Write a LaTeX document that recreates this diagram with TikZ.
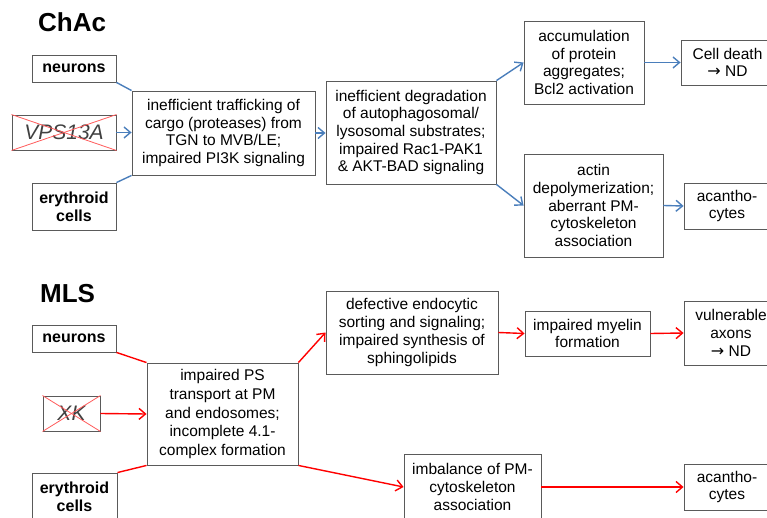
\documentclass[tikz,border=0pt]{standalone}
\usepackage{fontspec}
\setmainfont{Liberation Sans}
\newfontfamily\arrfont{DejaVu Sans}
\usetikzlibrary{arrows.meta}
\definecolor{boxgray}{RGB}{90,90,90}
\definecolor{cblue}{RGB}{74,126,187}
\definecolor{cred}{RGB}{255,0,0}
\definecolor{xred}{RGB}{255,90,90}
\definecolor{genegray}{RGB}{64,64,64}
\newcommand{\toarr}{{\arrfont\fontsize{16}{16}\selectfont →}}
\begin{document}
\begin{tikzpicture}[x=1pt,y=-1pt,
  box/.style={draw=boxgray, line width=0.9pt, inner sep=0pt, align=center,
    font=\fontsize{15.5}{17.7}\selectfont},
  lbl/.style={box, font=\bfseries\fontsize{16}{18}\selectfont},
  gene/.style={box, text=genegray, font=\itshape\fontsize{21}{24}\selectfont},
  sz/.style 2 args={minimum width=#1pt, minimum height=#2pt},
  title/.style={anchor=base west, inner sep=0pt, font=\bfseries\fontsize{26}{30}\selectfont},
  bl/.style={draw=cblue, color=cblue, line width=1.4pt},
  bla/.style={bl, -{Straight Barb[length=6.5pt,width=11pt]}},
  rd/.style={draw=cred, color=cred, line width=1.4pt},
  rda/.style={rd, -{Straight Barb[length=6.5pt,width=11pt]}},
  cross/.style={draw=xred, line width=0.8pt}
]
\useasboundingbox (0,0) rectangle (767,518);
\clip (0,0) rectangle (767,518);

% ---------------- ChAc ----------------
\node[title] (t1) at (38,32) {ChAc};
\node[lbl, sz={84}{27}] (n1) at (74,68.5) {neurons};
\node[gene, sz={104}{35}] (v1) at (64,132.5) {VPS13A};
\draw[cross] (v1.north west) -- (v1.south east);
\draw[cross] (v1.south west) -- (v1.north east);
\node[lbl, sz={84}{47}] (e1) at (74,206.5) {erythroid\\cells};
\node[box, sz={183}{84}] (b1) at (223.5,133)
  {inefficient trafficking of\\cargo (proteases) from\\TGN to MVB/LE;\\impaired PI3K signaling};
\node[box, sz={170}{103}] (b2) at (411,132.5)
  {inefficient degradation\\of autophagosomal/\\lysosomal substrates;\\impaired Rac1-PAK1\\\& AKT-BAD signaling};
\node[box, sz={120}{83}] (b3) at (584,62.5)
  {accumulation\\of protein\\aggregates;\\Bcl2 activation};
\node[box, sz={93}{45}] (b4) at (727.5,62.5) {Cell death\\\toarr\ ND};
\node[box, sz={139}{103}] (b5) at (593.5,205.5)
  {actin\\depolymerization;\\aberrant PM-\\cytoskeleton\\association};
\node[box, sz={86}{46}] (b6) at (727,206) {acantho-\\cytes};

\draw[bl] (n1.south east) -- (b1.north west);
\draw[bla] (v1.east) -- (b1.west |- v1.east);
\draw[bl] (e1.north east) -- (b1.south west);
\draw[bla] (b1.east) -- (b2.west |- b1.east);
\draw[bla] (b2.north east) -- (b3.west);
\draw[bla] (b2.south east) -- (b5.west);
\draw[bla] (b3.east) -- (b4.west);
\draw[bla] (b5.east) -- (b6.west);

% ---------------- MLS ----------------
\node[title] (t2) at (40,302) {MLS};
\node[lbl, sz={84}{27}] (n2) at (74,338.5) {neurons};
\node[gene, sz={57}{35}] (x2) at (71.5,413.5) {XK};
\draw[cross] (x2.north west) -- (x2.south east);
\draw[cross] (x2.south west) -- (x2.north east);
\node[lbl, sz={85}{47}] (e2) at (74.5,496.5) {erythroid\\cells};
\node[box, sz={151}{102}, font=\fontsize{15.5}{18.6}\selectfont] (m1) at (222.5,414)
  {impaired PS\\transport at PM\\and endosomes;\\incomplete 4.1-\\complex formation};
\node[box, sz={172}{83}] (m2) at (412,332.5)
  {defective endocytic\\sorting and signaling;\\impaired synthesis of\\sphingolipids};
\node[box, sz={125}{45}] (m3) at (587.5,333.5) {impaired myelin\\formation};
\node[box, sz={94}{64}] (m4) at (731,333) {vulnerable\\axons\\\toarr\ ND};
\node[box, sz={137}{66}] (m5) at (472.5,487)
  {imbalance of PM-\\cytoskeleton\\association};
\node[box, sz={86}{46}] (m6) at (727,487) {acantho-\\cytes};

\draw[rd] (n2.south east) -- (m1.north west);
\draw[rda] (x2.east) -- (m1.west);
\draw[rd] (e2.north east) -- (m1.south west);
\draw[rda] (m1.north east) -- (m2.west);
\draw[rda] (m1.south east) -- (m5.west);
\draw[rda] (m2.east) -- (m3.west);
\draw[rda] (m3.east) -- (m4.west);
\draw[rda] (m5.east) -- (m6.west);
\end{tikzpicture}
\end{document}
